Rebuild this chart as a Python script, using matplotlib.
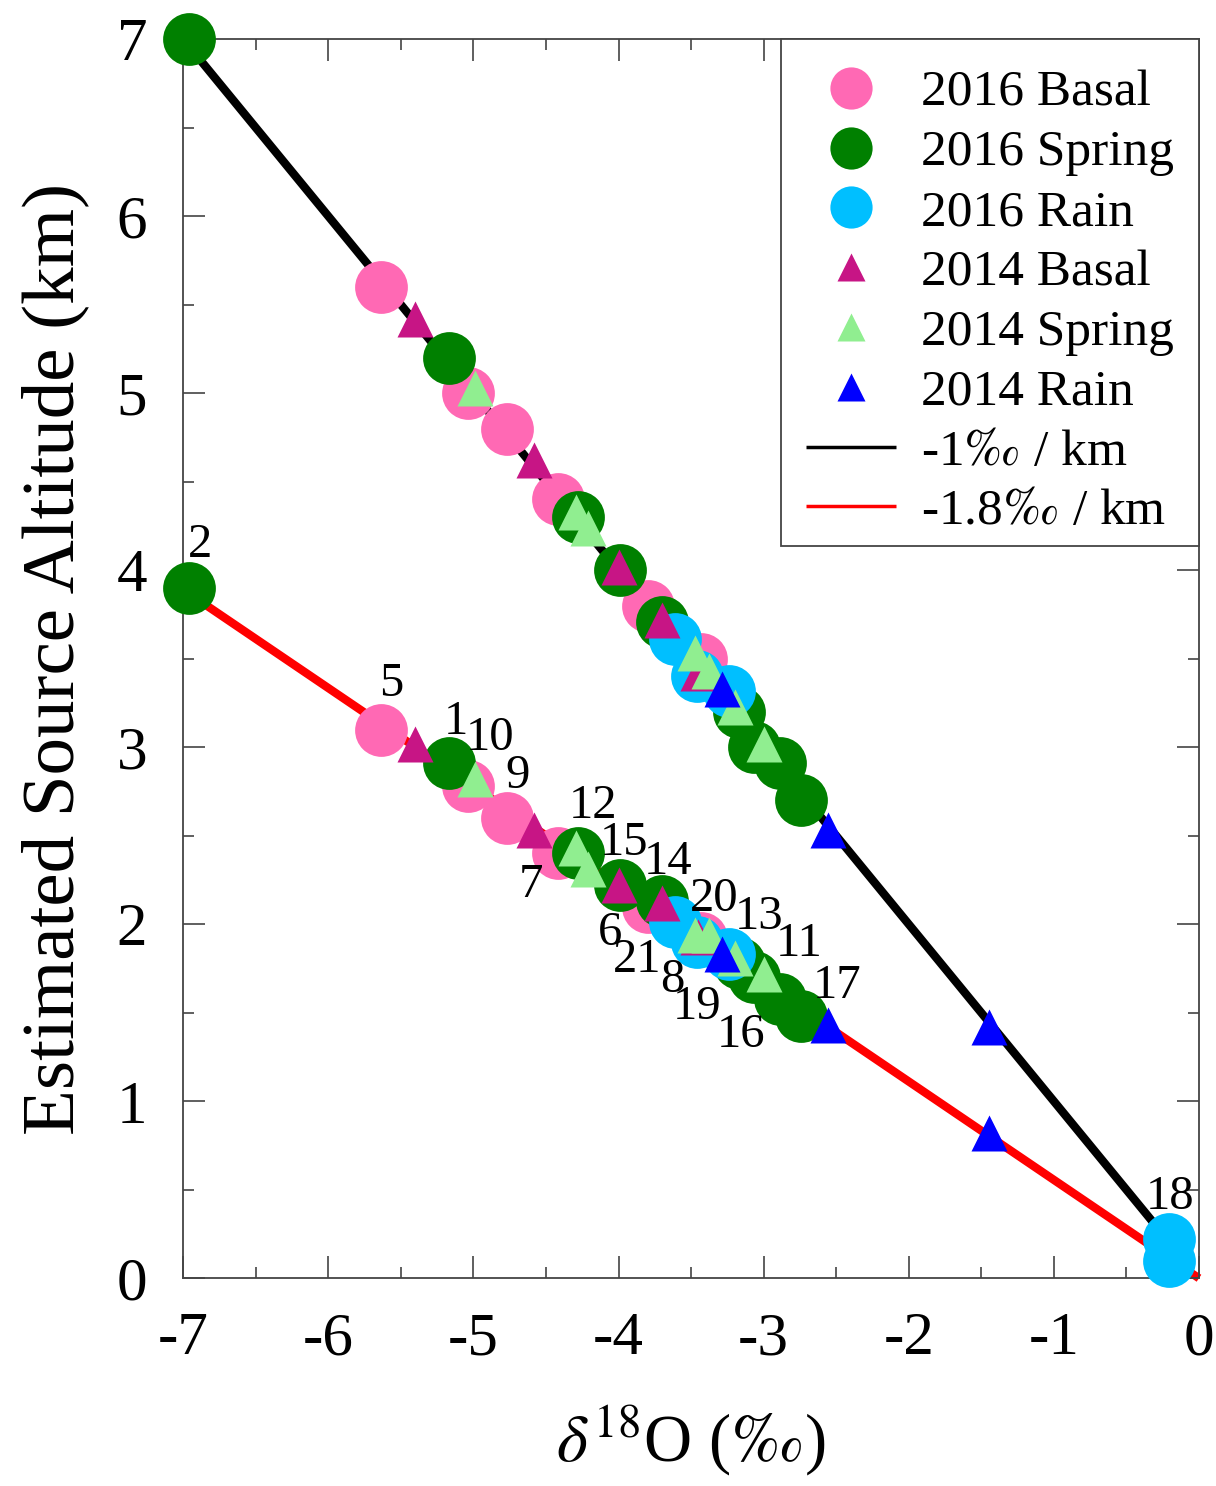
import matplotlib
matplotlib.use("Agg")
import matplotlib.pyplot as plt
from matplotlib.patches import Rectangle
from matplotlib.ticker import MultipleLocator

plt.rcParams['font.family'] = ['Liberation Serif', 'DejaVu Serif']
plt.rcParams['mathtext.fontset'] = 'stix'

# --- delta-18O values (permil) and estimated source altitudes (km) ---
# alt1  : altitude for a -1 permil/km lapse rate
# alt18 : altitude for a -1.8 permil/km lapse rate
basal16_d18o = [-5.64, -5.04, -4.77, -4.42, -3.80, -3.43]
basal16_alt1 = [5.60, 5.00, 4.80, 4.40, 3.80, 3.50]
basal16_alt18 = [3.10, 2.78, 2.60, 2.40, 2.10, 1.92]

spring16_d18o = [-6.96, -5.17, -4.28, -3.99, -3.70, -3.17, -3.07, -2.89, -2.74]
spring16_alt1 = [7.00, 5.20, 4.30, 4.00, 3.71, 3.20, 3.00, 2.91, 2.70]
spring16_alt18 = [3.90, 2.91, 2.40, 2.22, 2.13, 1.78, 1.70, 1.58, 1.48]

rain16_d18o = [-3.61, -3.46, -3.24, -0.21]
rain16_alt1 = [3.61, 3.40, 3.32, 0.22]
rain16_alt18 = [2.01, 1.90, 1.83, 0.10]

basal14_d18o = [-5.40, -4.58, -4.00, -3.70, -3.45]
basal14_alt1 = [5.42, 4.62, 4.02, 3.72, 3.42]
basal14_alt18 = [3.02, 2.53, 2.22, 2.12, 1.93]

spring14_d18o = [-4.99, -4.29, -4.21, -3.47, -3.38, -3.20, -3.00]
spring14_alt1 = [5.03, 4.33, 4.24, 3.53, 3.43, 3.23, 3.02]
spring14_alt18 = [2.82, 2.43, 2.31, 1.94, 1.94, 1.81, 1.72]

rain14_d18o = [-3.29, -2.56, -1.45]
rain14_alt1 = [3.33, 2.53, 1.42]
rain14_alt18 = [1.83, 1.43, 0.82]

# lapse-rate reference lines
line1_d18o = [-7.0, -0.2]
line1_alt = [7.0, 0.2]
line18_d18o = [-7.0, 0.0]
line18_alt = [3.89, 0.0]

# site numbers written next to the -1.8 permil/km points
site_labels = ['2', '5', '1', '10', '9', '12', '7', '15', '14', '6',
               '21', '20', '13', '11', '8', '19', '16', '17', '18']
site_label_x = [-6.885, -5.566, -5.123, -4.889, -4.694, -4.178, -4.602, -3.962,
                -3.662, -4.057, -3.869, -3.341, -3.031, -2.756, -3.628, -3.456,
                -3.157, -2.492, -0.198]
site_label_y = [4.14, 3.36, 3.14, 3.05, 2.84, 2.67, 2.22, 2.46, 2.35, 1.95,
                1.80, 2.14, 2.04, 1.89, 1.685, 1.53, 1.375, 1.65, 0.46]

x_ticks = [-7, -6, -5, -4, -3, -2, -1, 0]
y_ticks = [0, 1, 2, 3, 4, 5, 6, 7]

fig = plt.figure(figsize=(12.16, 14.86), dpi=100)
ax = fig.add_axes([0.1507, 0.1398, 0.8353, 0.8338])

l1, = ax.plot(line1_d18o, line1_alt, color='black', lw=6, zorder=1,
              solid_capstyle='butt', clip_on=False)
l18, = ax.plot(line18_d18o, line18_alt, color='red', lw=6, zorder=1,
               solid_capstyle='butt', clip_on=False)

series = [
    ('2016 Basal', basal16_d18o, basal16_alt1, basal16_alt18, 'o', '#FF69B4', 38),
    ('2016 Spring', spring16_d18o, spring16_alt1, spring16_alt18, 'o', '#008000', 38),
    ('2016 Rain', rain16_d18o, rain16_alt1, rain16_alt18, 'o', '#00BFFF', 38),
    ('2014 Basal', basal14_d18o, basal14_alt1, basal14_alt18, '^', '#C71585', 26),
    ('2014 Spring', spring14_d18o, spring14_alt1, spring14_alt18, '^', '#90EE90', 26),
    ('2014 Rain', rain14_d18o, rain14_alt1, rain14_alt18, '^', '#0000FF', 26),
]

handles = []
for z, (name, xd, ya, yb, mk, col, ms) in enumerate(series):
    h, = ax.plot(xd, ya, linestyle='none', marker=mk, ms=ms, color=col,
                 mec='none', zorder=3 + z, clip_on=False, label=name)
    ax.plot(xd, yb, linestyle='none', marker=mk, ms=ms, color=col,
            mec='none', zorder=3 + z, clip_on=False)
    handles.append(h)

l1.set_label(r'-1$\mathit{‰}$ / km')
l18.set_label(r'-1.8$\mathit{‰}$ / km')

for s, x, y in zip(site_labels, site_label_x, site_label_y):
    ax.text(x, y, s, fontsize=35, ha='center', va='center', zorder=20)

ax.set_xlim(-7, 0)
ax.set_ylim(0, 7)
ax.set_xticks(x_ticks)
ax.set_xticklabels([str(t) for t in x_ticks])
ax.set_yticks(y_ticks)
ax.set_yticklabels([str(t) for t in y_ticks])
ax.xaxis.set_minor_locator(MultipleLocator(0.5))
ax.yaxis.set_minor_locator(MultipleLocator(0.5))
ax.tick_params(which='both', direction='in', top=True, right=True,
               color='#444444', width=1.2)
ax.tick_params(which='major', length=16, labelsize=44)
ax.tick_params(which='minor', length=8)
ax.tick_params(axis='x', which='major', pad=24)
ax.tick_params(axis='y', which='major', pad=26)
for sp in ax.spines.values():
    sp.set_linewidth(1.3)
    sp.set_color('#444444')

ax.set_xlabel(r'$\delta^{18}$O ($\mathit{‰}$)', fontsize=48, labelpad=26)
ax.set_ylabel('Estimated Source Altitude (km)', fontsize=54, labelpad=20)

# legend box drawn separately so the entries can sit a little lower in it
ax.add_patch(Rectangle((0.5885, 0.591), 0.4115, 0.409, transform=ax.transAxes,
                       facecolor='white', edgecolor='#444444', lw=1.3,
                       zorder=24, clip_on=False))
leg = ax.legend(handles=handles + [l1, l18], loc='upper right', fontsize=37,
                frameon=False, bbox_to_anchor=(0.996, 0.992),
                borderaxespad=0, markerscale=0.8, handlelength=1.75,
                handletextpad=0.5, labelspacing=0.25, borderpad=0.4)
leg.set_zorder(25)
for lh in leg.get_lines()[-2:]:
    lh.set_linewidth(2.5)

fig.savefig('out.png', dpi=100)
